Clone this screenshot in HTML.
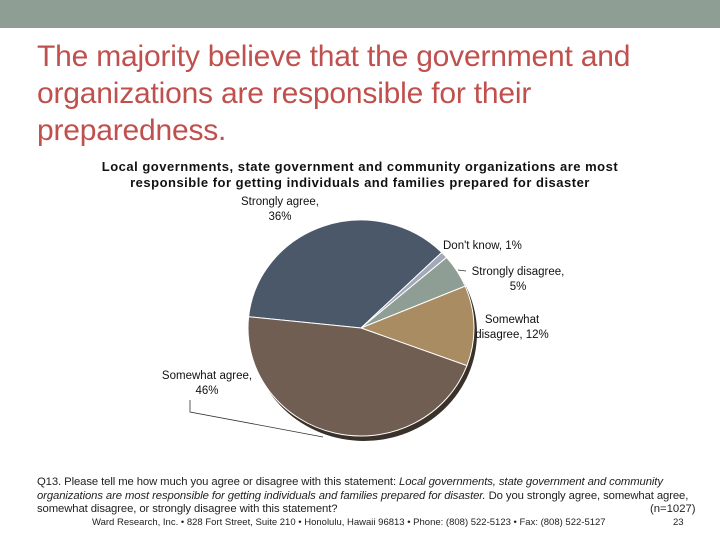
<!DOCTYPE html>
<html><head><meta charset="utf-8"><style>
body{margin:0;width:720px;height:540px;position:relative;background:#fff;font-family:"Liberation Sans",sans-serif;overflow:hidden}
.a{position:absolute;white-space:nowrap}
.lbl{font-size:11.5px;color:#111;text-align:center;line-height:15px}
.ft{font-size:11.3px;color:#222;left:37px}
</style></head><body>
<div class="a" style="left:0;top:0;width:720px;height:28px;background:#8f9e94"></div>
<div class="a" style="left:37px;top:38px;font-size:30px;line-height:37px;color:#c0504d;letter-spacing:-0.2px">The majority believe that the government and<br>organizations are responsible for their<br>preparedness.</div>
<div class="a" style="left:0;width:720px;top:159px;text-align:center;font-size:13px;font-weight:bold;line-height:16px;color:#111;letter-spacing:0.5px">Local governments, state government and community organizations are most<br>responsible for getting individuals and families prepared for disaster</div>
<svg class="a" style="left:0;top:0" width="720" height="540">
<g id="shadow"></g><g id="slices"></g>
<polyline points="190,400 190,412 323,437" fill="none" stroke="#333" stroke-width="0.8"/>
<line x1="458" y1="270" x2="466" y2="271" stroke="#333" stroke-width="0.8"/>
</svg>
<div class="a lbl" style="left:230px;top:195px;width:100px">Strongly agree,<br>36%</div>
<div class="a lbl" style="left:443px;top:239px">Don't know, 1%</div>
<div class="a lbl" style="left:462px;top:265px;width:112px">Strongly disagree,<br>5%</div>
<div class="a lbl" style="left:466px;top:313px;width:92px">Somewhat<br>disagree, 12%</div>
<div class="a lbl" style="left:156px;top:369px;width:102px">Somewhat agree,<br>46%</div>
<div class="a ft" style="top:476px;line-height:13.5px;letter-spacing:-0.1px">Q13. Please tell me how much you agree or disagree with this statement: <i>Local governments, state government and community</i><br><i>organizations are most responsible for getting individuals and families prepared for disaster.</i> Do you strongly agree, somewhat agree,<br>somewhat disagree, or strongly disagree with this statement?</div>
<div class="a ft" style="left:650px;top:503px;line-height:13.5px">(n=1027)</div>
<div class="a" style="left:92px;top:517px;font-size:9.5px;color:#222">Ward Research, Inc. • 828 Fort Street, Suite 210 • Honolulu, Hawaii 96813 • Phone: (808) 522-5123 • Fax: (808) 522-5127</div>
<div class="a" style="left:673px;top:517px;font-size:9.5px;color:#222">23</div>
<script>
const categories=["Strongly agree","Don't know","Strongly disagree","Somewhat disagree","Somewhat agree"];
const values=[36,1,5,12,46];
const colors=["#4a5869","#a1a9bb","#8f9e94","#a98c62","#705e53"];
const cx=361,cy=328,rx=113,ry=108,start=174;
const NS="http://www.w3.org/2000/svg";
function pt(a){const r=a*Math.PI/180;return [cx+rx*Math.cos(r),cy-ry*Math.sin(r)];}
const total=values.reduce((s,v)=>s+v,0);
const sh=document.createElementNS(NS,'ellipse');
sh.setAttribute('cx',cx+3);sh.setAttribute('cy',cy+5);sh.setAttribute('rx',rx);sh.setAttribute('ry',ry);sh.setAttribute('fill','#3b312b');


document.getElementById('shadow').appendChild(sh);
let a=start;
values.forEach((v,i)=>{
 const sw=v/total*360,a2=a-sw;
 const p1=pt(a),p2=pt(a2);
 const p=document.createElementNS(NS,'path');
 p.setAttribute('d',`M${cx},${cy}L${p1[0]},${p1[1]}A${rx},${ry} 0 ${sw>180?1:0} 1 ${p2[0]},${p2[1]}Z`);
 p.setAttribute('fill',colors[i]);p.setAttribute('stroke','#fff');p.setAttribute('stroke-width','1');
 
 
 document.getElementById('slices').appendChild(p);
 a=a2;
});
</script>
</body></html>
